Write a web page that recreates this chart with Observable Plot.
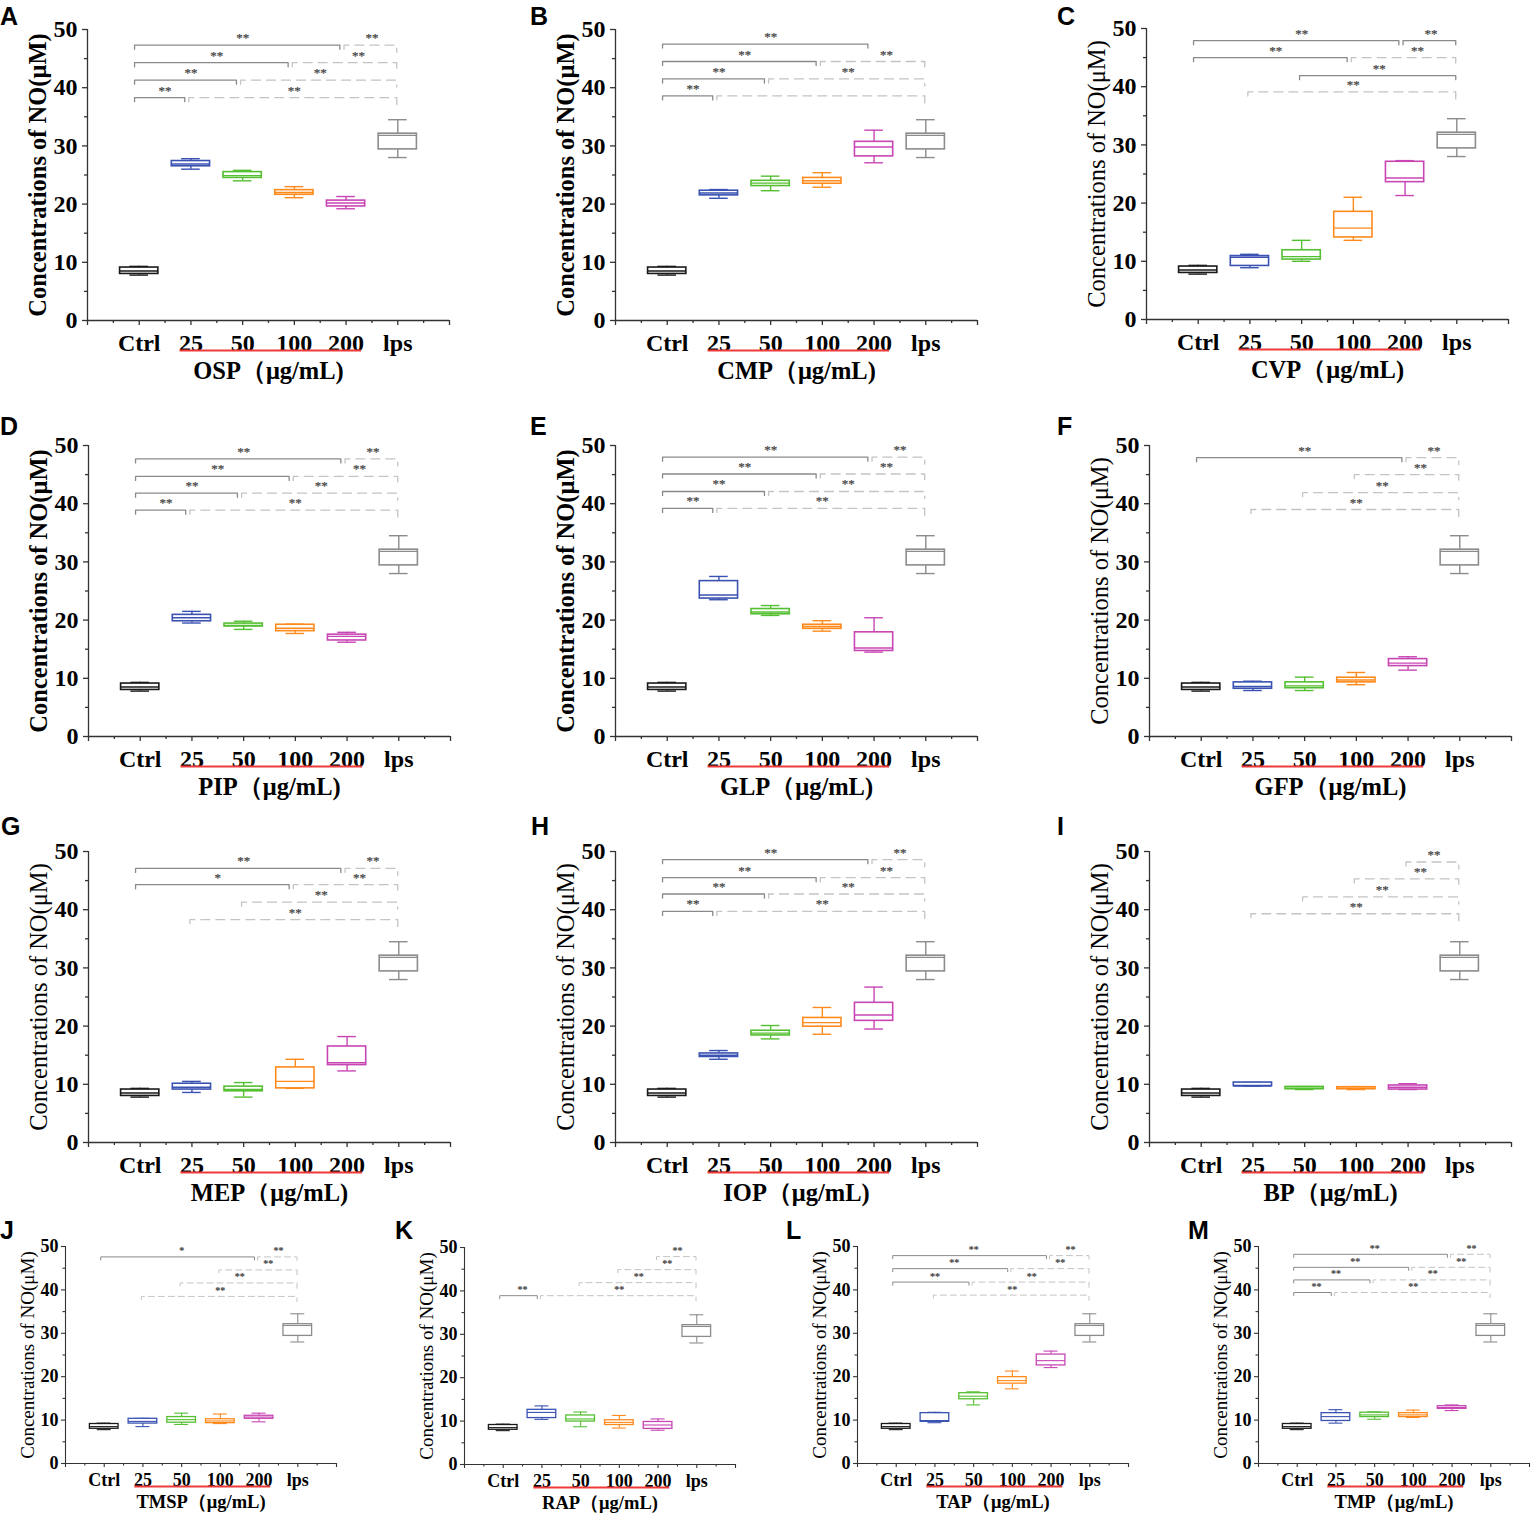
<!DOCTYPE html>
<html><head><meta charset="utf-8">
<script src="https://cdn.jsdelivr.net/npm/d3@7"></script>
<script src="https://cdn.jsdelivr.net/npm/@observablehq/plot@0.6"></script>
<style>
body{margin:0;background:#fff;}
#root{position:relative;width:1536px;height:1518px;background:#fff;overflow:hidden;}
.panel{position:absolute;}
.letter{position:absolute;font-family:"Liberation Sans",Arial,sans-serif;font-weight:bold;font-size:25px;line-height:25px;color:#000;}
</style></head><body><div id="root"></div>
<script>
// ---------- DATA ----------
const groups = ["Ctrl","25","50","100","200","lps"];
const panelLetters = ["A","B","C","D","E","F","G","H","I","J","K","L","M"];
const panelNames = ["OSP","CMP","CVP","PIP","GLP","GFP","MEP","IOP","BP","TMSP","RAP","TAP","TMP"];
const yTicks = [0,10,20,30,40,50];
const yLabelText = "Concentrations of NO(μM)";
const unitText = "（μg/mL)";

// box stats: [min, q1, median, q3, max]
const ctrlStats = [7.8, 8.0, 8.5, 9.1, 9.3];
const lpsStats  = [28.0, 29.4, 31.8, 32.1, 34.5];
// rows: 25, 50, 100, 200 µg/mL
const ospStats  = [[26.0,26.5,26.9,27.4,27.8],[24.0,24.5,24.9,25.5,25.8],[21.1,21.6,22.0,22.4,23.0],[19.2,19.6,20.2,20.6,21.3]];
const cmpStats  = [[21.0,21.5,21.9,22.3,22.5],[22.3,23.1,23.6,24.0,24.8],[22.9,23.5,24.0,24.5,25.4],[27.1,28.2,29.8,30.7,32.7]];
const cvpStats  = [[8.9,9.2,10.7,10.9,11.2],[10.0,10.3,10.8,11.9,13.6],[13.6,14.1,15.7,18.5,21.0],[21.3,23.6,24.3,27.1,27.3]];
const pipStats  = [[19.5,19.8,20.4,20.9,21.5],[18.4,18.9,19.1,19.4,19.8],[17.7,18.1,18.6,19.2,19.3],[16.2,16.5,17.2,17.5,17.9]];
const glpStats  = [[23.5,23.7,24.3,26.7,27.5],[20.8,21.0,21.4,21.9,22.5],[18.1,18.5,18.9,19.2,19.9],[14.5,14.7,15.2,17.9,20.4]];
const gfpStats  = [[7.9,8.2,8.6,9.3,9.5],[7.9,8.3,8.7,9.3,10.2],[8.9,9.3,9.7,10.1,11.0],[11.4,12.1,12.6,13.3,13.7]];
const mepStats  = [[8.6,9.1,9.5,10.1,10.5],[7.8,8.8,9.1,9.6,10.3],[9.3,9.3,10.5,12.9,14.3],[12.3,13.3,13.7,16.5,18.2]];
const iopStats  = [[14.3,14.7,15.0,15.3,15.8],[17.8,18.4,18.8,19.2,20.1],[18.6,19.9,20.6,21.4,23.2],[19.5,20.9,21.9,24.0,26.7]];
const bpStats   = [[9.7,9.7,9.7,10.3,10.3],[9.1,9.15,9.35,9.55,9.6],[9.1,9.15,9.35,9.5,9.6],[9.1,9.1,9.5,9.8,10.1]];
const tmspStats = [[8.5,9.2,9.7,10.3,10.4],[9.0,9.4,10.1,10.7,11.6],[9.2,9.3,9.8,10.2,11.4],[9.6,10.3,10.7,11.0,11.6]];
const rapStats  = [[10.4,10.7,12.0,12.6,13.5],[8.7,9.9,10.5,11.3,12.1],[8.4,9.1,9.7,10.2,11.3],[7.9,8.2,9.1,9.8,10.5]];
const tapStats  = [[9.4,9.6,9.9,11.6,11.8],[13.5,14.8,15.5,16.2,16.5],[17.2,18.4,19.1,19.9,21.3],[22.1,22.6,23.7,25.1,25.9]];
const tmpStats  = [[9.3,9.8,10.8,11.6,12.4],[10.2,10.7,11.2,11.7,11.9],[10.6,10.7,11.2,11.6,12.3],[12.2,12.6,12.9,13.2,13.5]];

// significance brackets: [from, to, level (µM), kind s=solid / d=dashed, label]
const ospBr  = [["Ctrl","25",38.3,"s","**"],["25","lps",38.3,"d","**"],["Ctrl","50",41.3,"s","**"],["50","lps",41.3,"d","**"],["Ctrl","100",44.3,"s","**"],["100","lps",44.3,"d","**"],["Ctrl","200",47.3,"s","**"],["200","lps",47.3,"d","**"]];
const cmpBr  = [["Ctrl","25",38.6,"s","**"],["25","lps",38.6,"d",""],["Ctrl","50",41.5,"s","**"],["50","lps",41.5,"d","**"],["Ctrl","100",44.5,"s","**"],["100","lps",44.5,"d","**"],["Ctrl","200",47.5,"s","**"]];
const cvpBr  = [["25","lps",39.1,"d","**"],["50","lps",41.9,"s","**"],["Ctrl","100",45.0,"s","**"],["100","lps",45.0,"d","**"],["Ctrl","200",47.9,"s","**"],["200","lps",47.9,"s","**"]];
const pipBr  = [["Ctrl","25",38.9,"s","**"],["25","lps",38.9,"d","**"],["Ctrl","50",41.8,"s","**"],["50","lps",41.8,"d","**"],["Ctrl","100",44.7,"s","**"],["100","lps",44.7,"d","**"],["Ctrl","200",47.7,"s","**"],["200","lps",47.7,"d","**"]];
const glpBr  = [["Ctrl","25",39.2,"s","**"],["25","lps",39.2,"d","**"],["Ctrl","50",42.1,"s","**"],["50","lps",42.1,"d","**"],["Ctrl","100",45.1,"s","**"],["100","lps",45.1,"d","**"],["Ctrl","200",48.0,"s","**"],["200","lps",48.0,"d","**"]];
const gfpBr  = [["25","lps",39.0,"d","**"],["50","lps",41.9,"d","**"],["100","lps",45.0,"d","**"],["Ctrl","200",47.9,"s","**"],["200","lps",47.9,"d","**"]];
const mepBr  = [["25","lps",38.3,"d","**"],["50","lps",41.3,"d","**"],["Ctrl","100",44.3,"s","*"],["100","lps",44.3,"d","**"],["Ctrl","200",47.1,"s","**"],["200","lps",47.1,"d","**"]];
const iopBr  = [["Ctrl","25",39.7,"s","**"],["25","lps",39.7,"d","**"],["Ctrl","50",42.7,"s","**"],["50","lps",42.7,"d","**"],["Ctrl","100",45.5,"s","**"],["100","lps",45.5,"d","**"],["Ctrl","200",48.6,"s","**"],["200","lps",48.6,"d","**"]];
const bpBr   = [["25","lps",39.3,"d","**"],["50","lps",42.2,"d","**"],["100","lps",45.3,"d","**"],["200","lps",48.2,"d","**"]];
const tmspBr = [["25","lps",38.5,"d","**"],["50","lps",41.6,"d","**"],["100","lps",44.6,"d","**"],["Ctrl","200",47.6,"s","*"],["200","lps",47.6,"d","**"]];
const rapBr  = [["Ctrl","25",38.9,"s","**"],["25","lps",38.9,"d","**"],["50","lps",41.9,"d","**"],["100","lps",44.9,"d","**"],["200","lps",47.9,"d","**"]];
const tapBr  = [["25","lps",38.8,"d","**"],["Ctrl","50",41.8,"s","**"],["50","lps",41.8,"d","**"],["Ctrl","100",44.9,"s","**"],["100","lps",44.9,"d","**"],["Ctrl","200",47.9,"s","**"],["200","lps",47.9,"d","**"]];
const tmpBr  = [["Ctrl","25",39.4,"s","**"],["25","lps",39.4,"d","**"],["Ctrl","50",42.3,"s","**"],["50","lps",42.3,"d","**"],["Ctrl","100",45.2,"s","**"],["100","lps",45.2,"d","**"],["Ctrl","200",48.2,"s","**"],["200","lps",48.2,"d","**"]];

const panelStats = [ospStats,cmpStats,cvpStats,pipStats,glpStats,gfpStats,mepStats,iopStats,bpStats,tmspStats,rapStats,tapStats,tmpStats];
const panelBrackets = [ospBr,cmpBr,cvpBr,pipBr,glpBr,gfpBr,mepBr,iopBr,bpBr,tmspBr,rapBr,tapBr,tmpBr];
const boldYLabel = [true,true,false,true,true,false,false,false,false,false,false,false,false];

// ---------- STYLE / LAYOUT ----------
const groupColors = ["#1a1a1a","#3a52b2","#55bf32","#ff8a1c","#c846b4","#8c8c8c"];
const big = {W:362,H:291,ML:87,MR:8,MT:22,MB:70,font:24,tick:5,minor:3,ypad:5,xpad:8,titleFont:24.5,titleDy:58,ylabFont:24.5,ylabOff:49,redDy:30,star:13,starDy:-3,dash:"9,6",sw:1.4,axw:1.3};
const small = {W:271,H:217,ML:62,MR:6,MT:16,MB:52,font:18,tick:4,minor:2.5,ypad:3,xpad:6,titleFont:18.5,titleDy:44,ylabFont:19,ylabOff:38,redDy:23,star:10,starDy:-2.5,dash:"6,4",sw:1.1,axw:1.1};
// axis origin (left x, y of value 50) for each panel
const frames = [
  [87,29,big],[615,29,big],[1146,28,big],
  [88,445,big],[615,445,big],[1149,445,big],
  [88,851,big],[615,851,big],[1149,851,big],
  [65,1246,small],[464,1247,small],[857,1246,small],[1258,1246,small]
];
const letterPos = [[0,4],[530,4],[1057,4],[0,414],[530,414],[1057,414],[1,814],[531,814],[1057,814],[0,1218],[395,1218],[786,1218],[1188,1218]];

const root = document.getElementById("root");

function makePanel(k) {
  const [x0, yTop, L] = frames[k];
  const stats = [ctrlStats, ...panelStats[k], lpsStats];
  const boxes = stats.map((s, i) => ({i: i + 1, min: s[0], q1: s[1], med: s[2], q3: s[3], max: s[4], color: groupColors[i]}));
  const br = panelBrackets[k].map(([from, to, level, kind, label], j) => {
    const a = groups.indexOf(from) + 1, b = groups.indexOf(to) + 1;
    return {j, a, b, level, kind, label,
      x1: a - (a === 1 ? 0.09 : 0.04),
      x2: b - (b === 6 ? 0.02 : 0.12)};
  });
  const pts = kind => br.filter(d => d.kind === kind).flatMap(d => [
    {j: d.j, x: d.x1, y: d.level - 0.7},
    {j: d.j, x: d.x1, y: d.level},
    {j: d.j, x: d.x2, y: d.level},
    {j: d.j, x: d.x2, y: d.level - (d.b === 6 && kind === "d" ? 1.2 : 0.7)}
  ]);
  const stars = br.filter(d => d.label).map(d => ({
    x: (d.a === 4 && d.b === 6) ? 5.24 : (d.a + d.b) / 2, y: d.level, label: d.label}));
  const hb = 0.37, hc = 0.18;
  const chart = Plot.plot({
    width: L.ML + L.W + L.MR, height: L.MT + L.H + L.MB,
    marginLeft: L.ML, marginRight: L.MR, marginTop: L.MT, marginBottom: L.MB,
    x: {domain: [0, 7], label: null},
    y: {domain: [0, 50], label: null},
    color: {type: "identity"},
    style: {fontFamily: '"Liberation Serif","Times New Roman",serif', fontWeight: "bold", fontSize: L.font + "px",
            background: "transparent", overflow: "visible", maxWidth: "none", color: "#000"},
    marks: [
      // brackets
      Plot.line(pts("d"), {x: "x", y: "y", z: "j", stroke: "#c4c4c4", strokeWidth: L.sw - 0.1, strokeDasharray: L.dash}),
      Plot.line(pts("s"), {x: "x", y: "y", z: "j", stroke: "#8a8a8a", strokeWidth: L.sw - 0.1}),
      Plot.text(stars, {x: "x", y: "y", text: "label", dy: L.starDy, lineAnchor: "bottom", fontSize: L.star, fontWeight: "normal", fill: "#4a4a4a", stroke: "#4a4a4a", strokeWidth: 0.25}),
      // boxes
      Plot.ruleX(boxes, {x: "i", y1: "q3", y2: "max", stroke: "color", strokeWidth: L.sw}),
      Plot.ruleX(boxes, {x: "i", y1: "min", y2: "q1", stroke: "color", strokeWidth: L.sw}),
      Plot.ruleY(boxes, {y: "max", x1: d => d.i - hc, x2: d => d.i + hc, stroke: "color", strokeWidth: L.sw}),
      Plot.ruleY(boxes, {y: "min", x1: d => d.i - hc, x2: d => d.i + hc, stroke: "color", strokeWidth: L.sw}),
      Plot.rect(boxes, {x1: d => d.i - hb, x2: d => d.i + hb, y1: "q1", y2: "q3", fill: "white", stroke: "color", strokeWidth: L.sw + 0.2}),
      Plot.ruleY(boxes, {y: "med", x1: d => d.i - hb, x2: d => d.i + hb, stroke: "color", strokeWidth: L.sw}),
      // axes
      Plot.axisY({ticks: yTicks, tickSize: L.tick, tickPadding: L.ypad, tickFormat: d => String(d), fontSize: L.font, fontWeight: "bold", stroke: "#333", strokeWidth: L.axw, fill: "#000", label: null}),
      Plot.axisY({ticks: yTicks.slice(0, -1).map(t => t + 5), tickSize: L.minor, tickFormat: () => "", stroke: "#333", strokeWidth: L.axw, label: null}),
      Plot.axisX({ticks: groups.map((g, i) => i + 1), tickSize: L.tick, tickPadding: L.xpad, tickFormat: d => groups[d - 1], fontSize: L.font, fontWeight: "bold", stroke: "#333", strokeWidth: L.axw, fill: "#000", label: null}),
      Plot.axisX({ticks: [0, groups.length + 1], tickSize: L.tick, tickFormat: () => "", stroke: "#333", strokeWidth: L.axw, label: null}),
      Plot.axisX({ticks: d3.range(0.5, groups.length + 1, 1), tickSize: L.minor, tickFormat: () => "", stroke: "#333", strokeWidth: L.axw, label: null}),
      Plot.ruleX([0], {stroke: "#333", strokeWidth: L.axw}),
      Plot.ruleY([0], {stroke: "#333", strokeWidth: L.axw}),
      // red underline for the dose groups
      Plot.ruleY([0], {x1: groups.indexOf("25") + 1 - 0.21, x2: groups.indexOf("200") + 1 + 0.3, dy: L.redDy, stroke: "#f03a3a", strokeWidth: 1.8}),
      // x title
      Plot.text([panelNames[k] + unitText], {text: d => d, frameAnchor: "bottom", lineAnchor: "bottom", textAnchor: "middle", dy: L.titleDy, fontSize: L.titleFont, fontWeight: "bold", fill: "#000"}),
      // y title
      Plot.text([yLabelText], {text: d => d, frameAnchor: "left", textAnchor: "middle", lineAnchor: "middle", rotate: -90, dx: -L.ylabOff, fontSize: L.ylabFont, fontWeight: boldYLabel[k] ? "bold" : "normal", fill: "#000"})
    ]
  });
  const div = document.createElement("div");
  div.className = "panel";
  div.style.left = (x0 - L.ML) + "px";
  div.style.top = (yTop - L.MT) + "px";
  div.appendChild(chart);
  root.appendChild(div);
}

for (let k = 0; k < panelNames.length; k++) makePanel(k);

panelLetters.forEach((t, k) => {
  const d = document.createElement("div");
  d.className = "letter";
  d.textContent = t;
  d.style.left = letterPos[k][0] + "px";
  d.style.top = letterPos[k][1] + "px";
  root.appendChild(d);
});
</script>
</body></html>
